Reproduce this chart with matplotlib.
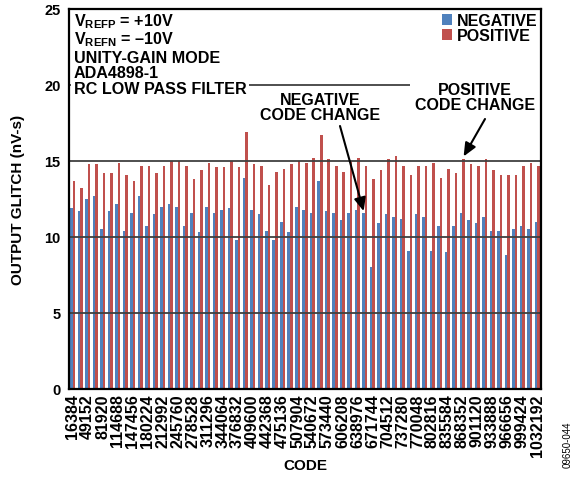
import numpy as np
import matplotlib
matplotlib.use("Agg")
import matplotlib.pyplot as plt

plt.rcParams['font.family'] = ['Liberation Sans', 'DejaVu Sans']
plt.rcParams['font.weight'] = 'bold'
plt.rcParams['mathtext.fontset'] = 'custom'
plt.rcParams['mathtext.rm'] = 'Liberation Sans:bold'
plt.rcParams['mathtext.bf'] = 'Liberation Sans:bold'
plt.rcParams['mathtext.it'] = 'Liberation Sans:bold'

# codes 16384 * k, k = 1..63
codes = [16384 * k for k in range(1, 64)]

negative = [11.9, 11.7, 12.5, 12.7, 10.5, 11.7, 12.2, 10.4, 11.6, 12.7,
            10.7, 11.5, 12.0, 12.2, 12.0, 10.7, 11.6, 10.3, 12.0, 11.6,
            11.8, 11.9, 9.8, 13.9, 11.8, 11.5, 10.4, 9.8, 11.0, 10.3,
            12.0, 11.8, 11.6, 13.7, 11.7, 11.6, 11.1, 11.6, 11.8, 11.6,
            8.0, 10.9, 11.5, 11.3, 11.2, 9.1, 11.5, 11.3, 9.1, 10.7,
            9.0, 10.7, 11.6, 11.1, 10.9, 11.3, 10.4, 10.4, 8.8, 10.5,
            10.7, 10.5, 11.0]

positive = [13.7, 13.2, 14.8, 14.8, 14.2, 14.2, 14.9, 14.1, 13.7, 14.7,
            14.7, 14.2, 14.7, 15.0, 15.0, 14.7, 13.8, 14.4, 14.9, 14.6,
            14.6, 15.0, 14.6, 16.9, 14.8, 14.7, 13.4, 14.3, 14.5, 14.8,
            15.0, 14.9, 15.2, 16.7, 15.1, 14.7, 14.3, 15.0, 15.2, 14.7,
            13.8, 14.4, 15.1, 15.3, 14.7, 14.1, 14.7, 14.7, 14.9, 13.9,
            14.5, 14.2, 15.1, 14.8, 14.7, 15.1, 14.4, 14.1, 14.1, 14.1,
            14.7, 14.9, 14.7]

tick_labels = [str(c) if i % 2 == 0 else '' for i, c in enumerate(codes)]

W, H = 575, 481
fig = plt.figure(figsize=(W / 100, H / 100), dpi=100)


def fp(x, y):
    return (x / W, 1 - y / H)


ax = fig.add_axes([69 / W, (H - 390) / H, 472 / W, 380 / H])

x = np.arange(len(codes))
bw = 0.34
ax.bar(x - bw / 2, negative, bw, color='#4F81BD', label='NEGATIVE', zorder=2)
ax.bar(x + bw / 2, positive, bw, color='#C0504D', label='POSITIVE', zorder=2)

ax.set_xlim(-0.5, len(codes) - 0.5)
ax.set_ylim(0, 25)
ax.set_yticks([0, 5, 10, 15, 20, 25])
ax.set_xticks(x)
ax.set_xticklabels(tick_labels, rotation=90, fontsize=11.5, fontweight='bold')
ax.tick_params(axis='x', length=0, pad=3)
ax.tick_params(axis='y', length=0, pad=6, labelsize=10.5)
for lbl in ax.get_yticklabels():
    lbl.set_fontweight('bold')

for g in [5, 10, 15, 20]:
    ax.axhline(g, color='#404040', lw=1.3, zorder=3)
for s in ax.spines.values():
    s.set_linewidth(1.6)
    s.set_color('black')
    s.set_zorder(4)

ax.set_ylabel('OUTPUT GLITCH (nV-s)', fontsize=11, fontweight='bold', labelpad=14)
ax.set_xlabel('CODE', fontsize=11, fontweight='bold', labelpad=2)

leg = ax.legend(loc='upper right', bbox_to_anchor=(1.0, 1.0), frameon=False,
                fontsize=11.5, handlelength=0.65, handleheight=0.65,
                handletextpad=0.25, labelspacing=0.0, borderaxespad=0.15,
                borderpad=0.1)
for t in leg.get_texts():
    t.set_fontweight('bold')

tf = fig.transFigure
box = dict(facecolor='white', edgecolor='none', pad=2)
info = ['V$_{\\mathrm{REFP}}$ = +10V', 'V$_{\\mathrm{REFN}}$ = \u201310V',
        'UNITY-GAIN MODE', 'ADA4898-1', 'RC LOW PASS FILTER']
info_y = [26, 44, 63, 78, 94]
for t, yy in zip(info, info_y):
    ax.text(*fp(74, yy), t, transform=tf, fontsize=11.6, fontweight='bold',
            ha='left', va='baseline', clip_on=False,
            bbox=box if t.startswith('RC') else None, zorder=3.5)

ax.text(*fp(320, 108), 'NEGATIVE\nCODE CHANGE', transform=tf, fontsize=11.5,
        fontweight='bold', ha='center', va='center', linespacing=1.0,
        clip_on=False, zorder=3.5)
ax.text(*fp(475, 98), 'POSITIVE\nCODE CHANGE', transform=tf, fontsize=11.5,
        fontweight='bold', ha='center', va='center', linespacing=1.0,
        bbox=dict(facecolor='white', edgecolor='none', pad=3.5),
        clip_on=False, zorder=3.5)

arrow = dict(arrowstyle='-|>,head_length=0.8,head_width=0.35', color='black',
             lw=1.5, shrinkA=0, shrinkB=0)
ax.annotate('', xy=(39 - bw / 2, negative[39] + 0.1), xycoords='data',
            xytext=fp(340, 127), textcoords='figure fraction',
            arrowprops=arrow, zorder=6)
ax.annotate('', xy=(52 + bw / 2, positive[52] + 0.2), xycoords='data',
            xytext=fp(485, 120), textcoords='figure fraction',
            arrowprops=arrow, zorder=6)

fig.text(*fp(568, 445), '09650-044', fontsize=7, fontweight='normal',
         rotation=90, ha='center', va='center')

fig.savefig('out.png', dpi=100)
